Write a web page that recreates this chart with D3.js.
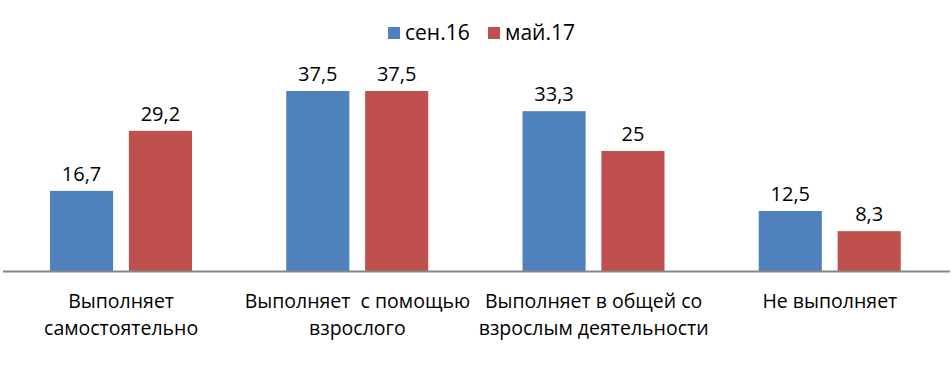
<!DOCTYPE html>
<html>
<head>
<meta charset="utf-8">
<script src="https://cdn.jsdelivr.net/npm/d3@7"></script>
<style>
  body { margin: 0; background: #fff; }
  text { font-family: "Open Sans", "Noto Sans", sans-serif; fill: #000; }
</style>
</head>
<body>
<svg id="chart" width="952" height="365"></svg>
<script>
// data
var categories = [
    ["Выполняет", "самостоятельно"],
    ["Выполняет  с помощью", "взрослого"],
    ["Выполняет в общей со", "взрослым деятельности"],
    ["Не выполняет"]
];
var seriesNames = ["сен.16", "май.17"];
var sep16 = [16.7, 37.5, 33.3, 12.5];
var may17 = [29.2, 37.5, 25, 8.3];
var valueLabels = [["16,7", "37,5", "33,3", "12,5"], ["29,2", "37,5", "25", "8,3"]];
var colors = ["#4F81BD", "#C0504D"];

var svg = d3.select("#chart");

var x0 = d3.scaleBand()
    .domain(d3.range(categories.length))
    .range([3, 948])
    .padding(0);

var x1 = d3.scaleBand()
    .domain([0, 1])
    .range([47, 189])
    .paddingInner(0.2);

var y = d3.scaleLinear()
    .domain([0, 40])
    .range([271, 79]);

var rows = categories.map(function(c, i){
    return [sep16[i], may17[i]];
});

// bars
var groups = svg.selectAll(".grp")
    .data(rows)
    .enter()
    .append("g")
    .attr("class", "grp")
    .attr("transform", (d, i) => "translate(" + x0(i) + ",0)");

groups.selectAll("rect")
    .data(d => d.map((v, s) => ({v: v, s: s})))
    .enter()
    .append("rect")
    .attr("x", d => x1(d.s))
    .attr("y", d => y(d.v))
    .attr("width", x1.bandwidth())
    .attr("height", d => y(0) - y(d.v))
    .attr("fill", d => colors[d.s]);

// value labels
groups.each(function(d, i){
    d3.select(this).selectAll(".val")
	.data(d.map((v, s) => ({v: v, s: s})))
	.enter()
	.append("text")
	.attr("class", "val")
	.attr("x", e => x1(e.s) + x1.bandwidth()/2)
	.attr("y", e => y(e.v) - 10)
	.attr("text-anchor", "middle")
	.style("font-size", "20px")
	.text(e => valueLabels[e.s][i]);
});

// axis line
svg.append("line")
    .attr("x1", x0.range()[0])
    .attr("x2", x0.range()[1] + 2)
    .attr("y1", y(0) + 0.5)
    .attr("y2", y(0) + 0.5)
    .attr("stroke", "#868686")
    .attr("stroke-width", 2);

// category labels
categories.forEach(function(lines, i){
    var t = svg.append("text")
	.attr("text-anchor", "middle")
	.style("font-size", "19.5px")
	.style("white-space", "pre");
    lines.forEach(function(l, k){
	t.append("tspan")
	    .attr("x", x0(i) + x0.bandwidth()/2)
	    .attr("y", 308 + k*27)
	    .text(l);
    });
});

// legend
var legend = svg.append("g").attr("transform", "translate(388,27)");
var lx = [0, 100];
seriesNames.forEach(function(n, s){
    legend.append("rect")
	.attr("x", lx[s])
	.attr("y", 0)
	.attr("width", 12)
	.attr("height", 12)
	.attr("fill", colors[s]);
    legend.append("text")
	.attr("x", lx[s] + 17)
	.attr("y", 13)
	.style("font-size", "21px")
	.text(n);
});
</script>
</body>
</html>
